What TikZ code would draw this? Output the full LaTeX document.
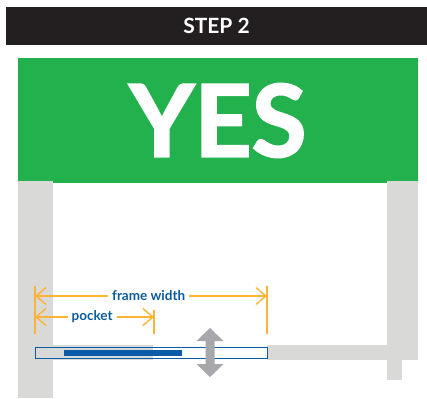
\documentclass[tikz,border=0pt]{standalone}
\usepackage{fontspec}
\setmainfont{Lato}
\newfontfamily\heavyfont[BoldFeatures={FakeBold=2}]{Lato}
\usepackage{tikz}
\usetikzlibrary{arrows.meta, positioning}
\definecolor{stepblack}{HTML}{231F20}
\definecolor{yesgreen}{HTML}{23B14D}
\definecolor{wallgray}{HTML}{D9DAD7}
\definecolor{arrowgray}{HTML}{A7A8AB}
\definecolor{dimorange}{HTML}{FDB335}
\definecolor{labelblue}{HTML}{0B5D99}
\definecolor{doorblue}{HTML}{0A5CAA}
\tikzstyle{banner} = [rectangle, inner sep=0pt, text=white, font=\bfseries]
\tikzstyle{wall} = [fill=wallgray]
\tikzstyle{dimline} = [dimorange, line width=1.4pt,
  {Straight Barb[length=10pt, width=17pt]}-{Straight Barb[length=10pt, width=17pt]}]
\tikzstyle{dimtick} = [dimorange, line width=1.4pt]
\tikzstyle{dimlabel} = [fill=white, inner xsep=4pt, inner ysep=1pt,
  text=labelblue, font=\fontsize{13.5}{14}\selectfont\bfseries]

\begin{document}
\begin{tikzpicture}[x=1pt, y=-1pt]
    \useasboundingbox (0,0) rectangle (427,398);
    % header bars
    \node[banner, fill=stepblack, minimum width=421pt, minimum height=38pt,
      font=\fontsize{21}{22}\selectfont\bfseries] (step) at (216.5,26) {STEP 2};
    \node[banner, fill=yesgreen, minimum width=400pt, minimum height=125pt,
      font=\fontsize{100}{100}\selectfont\heavyfont\bfseries] (yes) at (218,120.5) {YES};
    % walls
    \fill[wall] (18,181) rectangle (53,398);
    \fill[wall] (387,181) rectangle (418,360);
    \fill[wall] (387,360) rectangle (402,380);
    \fill[wall] (267,345) rectangle (387,360);
    % door in pocket
    \coordinate (door-l) at (35,347);
    \coordinate (door-r) at (267,358);
    \fill[white] (door-l) rectangle (door-r);
    \fill[wall] (35,345) rectangle (153,360);
    \fill[doorblue] (64,350) rectangle (182,356);
    \draw[doorblue, line width=0.9pt] (door-l) rectangle (door-r);
    % up/down arrow
    \fill[arrowgray] (210,328) -- (223.5,341) -- (214.5,341) -- (214.5,364)
      -- (223.5,364) -- (210,377) -- (196.5,364) -- (205.5,364)
      -- (205.5,341) -- (196.5,341) -- cycle;
    % dimensions
    \coordinate (tick-l) at (35,286);
    \coordinate (tick-lb) at (35,334);
    \coordinate (tick-p) at (154,310);
    \coordinate (tick-pb) at (154,334);
    \coordinate (tick-f) at (267,286);
    \coordinate (tick-fb) at (267,334);
    \draw[dimtick] (tick-l) -- (tick-lb);
    \draw[dimtick] (tick-p) -- (tick-pb);
    \draw[dimtick] (tick-f) -- (tick-fb);
    \coordinate (fw-l) at (35,296);
    \coordinate (fw-r) at (267,296);
    \coordinate (pk-l) at (35,317);
    \coordinate (pk-r) at (154,317);
    \draw[dimline] (fw-l) -- (fw-r) node[dimlabel, pos=0.49] (fwlabel) {frame width};
    \draw[dimline] (pk-l) -- (pk-r) node[dimlabel, pos=0.48] (pklabel) {pocket};
\end{tikzpicture}
\end{document}
